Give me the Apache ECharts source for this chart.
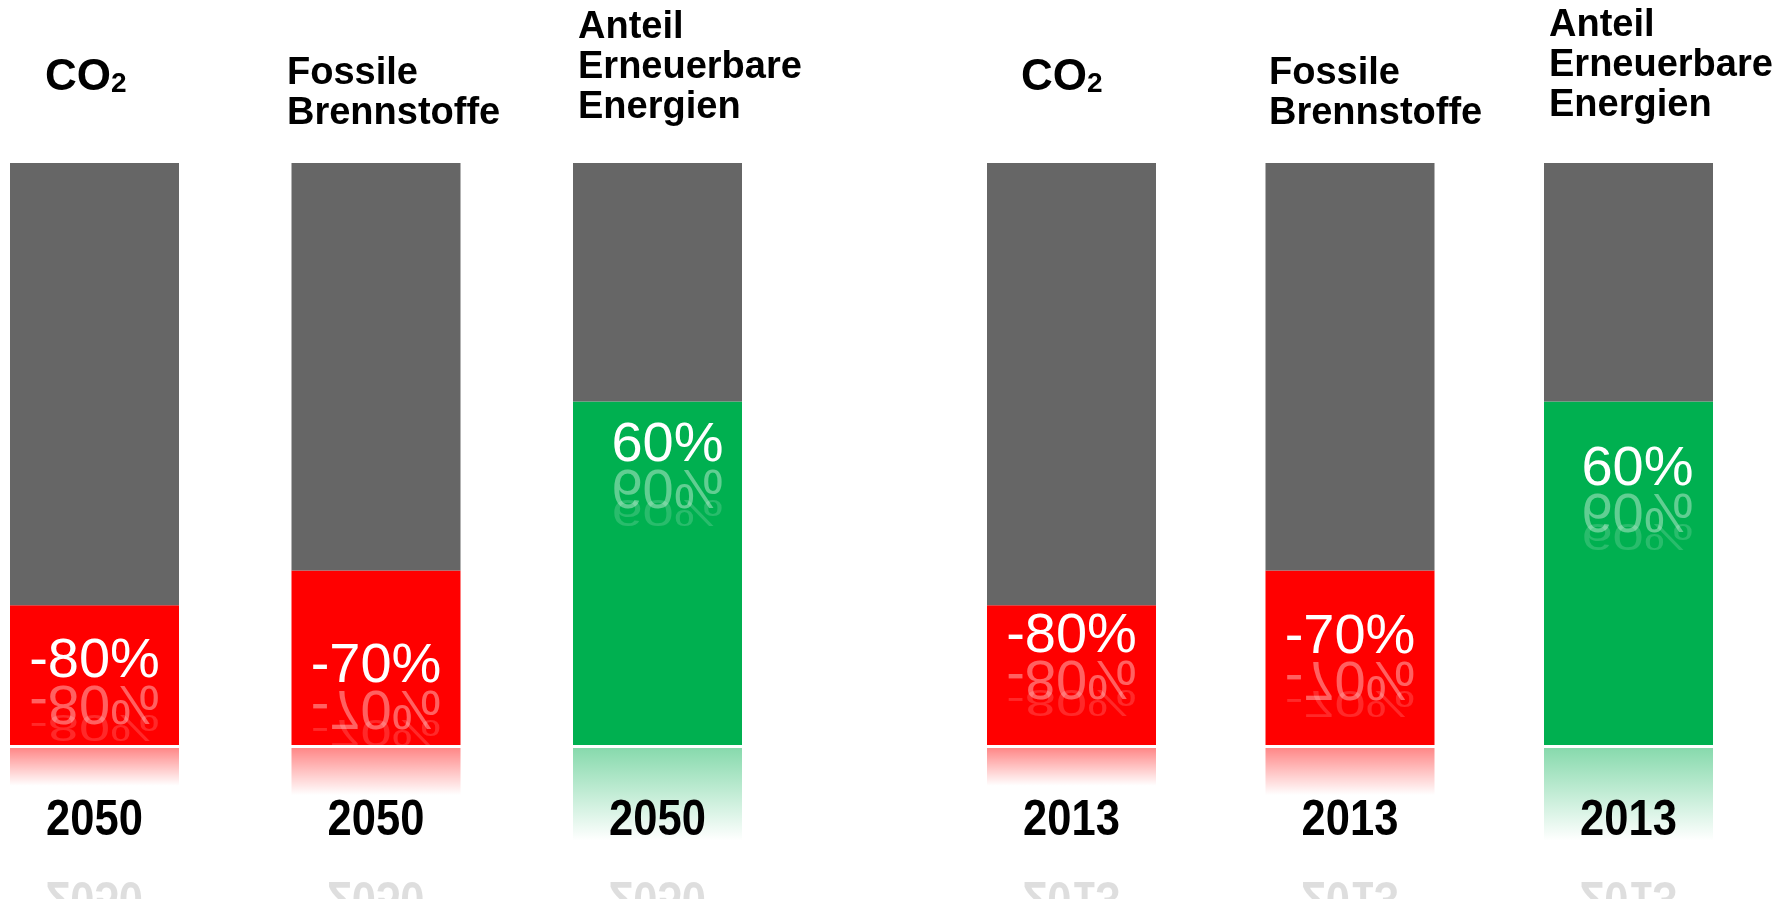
<!DOCTYPE html>
<html><head><meta charset="utf-8">
<script src="https://cdn.jsdelivr.net/npm/echarts@6/dist/echarts.min.js"></script>
<style>html,body{margin:0;padding:0;background:#fff}#c{width:1775px;height:899px}</style>
</head><body><div id="c"></div>
<script>
// ---- data ----
const titles = ['{a|CO}{b|2}', 'Fossile\nBrennstoffe', 'Anteil\nErneuerbare\nEnergien'];
const years2050 = ['2050', '2050', '2050'];
const years2013 = ['2013', '2013', '2013'];
const share2050 = [24, 30, 59];
const share2013 = [24, 30, 59];
const labels2050 = ['-80%', '-70%', '60%'];
const labels2013 = ['-80%', '-70%', '60%'];

// ---- layout / style (not data) ----
const BAR_W = 169;
const segColors = ['#FF0000', '#FF0000', '#00B050'];
const segRGB = [[255, 0, 0], [255, 0, 0], [0, 176, 80]];
const labelDy2050 = [56, 96, 44], labelDx2050 = [0, 0, 10];
const labelDy2013 = [31, 67, 68], labelDx2013 = [0, 0, 9];
const titlePos = [[45, 50], [287, 54], [578, 8], [1021, 50], [1269, 54], [1549, 6]];
const pctFont = '56px "Liberation Sans", Arial, sans-serif';
const yearFont = 'bold 50px "Liberation Sans", Arial, sans-serif';
const YEAR_SX = 0.87;

function rgba(c, a) { return 'rgba(' + c[0] + ',' + c[1] + ',' + c[2] + ',' + a + ')'; }

function overlay(labels, dys, dxs, years) {
  return function (params, api) {
    const i = api.value(0), v = api.value(1);
    const top = api.coord([i, v]);
    const base = api.coord([i, 0]);
    const cx = base[0], by = base[1], ty = top[1];
    const segH = by - ty;
    const lx = cx + dxs[i], ly = ty + dys[i];
    const c = segRGB[i];
    const txt = { text: labels[i], font: pctFont, align: 'center', verticalAlign: 'middle' };
    const ytxt = { text: years[i], font: yearFont, align: 'center', verticalAlign: 'middle' };
    return {
      type: 'group',
      children: [
        { type: 'rect', shape: { x: cx - BAR_W / 2, y: by + 3, width: BAR_W, height: segH * 0.27 },
          style: { fill: new echarts.graphic.LinearGradient(0, 0, 0, 1, [
            { offset: 0, color: rgba(c, 0.47) }, { offset: 1, color: rgba(c, 0) }]) } },
        { type: 'text', x: lx, y: ly, style: Object.assign({ fill: '#ffffff' }, txt) },
        { type: 'text', x: lx, y: ly + 40, scaleY: -1, style: Object.assign({ fill: 'rgba(255,255,255,0.38)' }, txt) },
        { type: 'text', x: lx, y: ly + 64, scaleY: -0.65, style: Object.assign({ fill: 'rgba(255,255,255,0.16)' }, txt) },
        { type: 'text', x: cx, y: by + 76, scaleX: YEAR_SX, style: Object.assign({ fill: '#000000' }, ytxt) },
        { type: 'text', x: cx, y: by + 151, scaleX: YEAR_SX, scaleY: -1,
          style: Object.assign({ fill: 'rgba(0,0,0,0.13)' }, ytxt) }
      ]
    };
  };
}

function makeGroup(gi, years, share, labels, dys, dxs) {
  return {
    xAxis: {
      type: 'category', gridIndex: gi, data: years, boundaryGap: false,
      axisLine: { show: false }, axisTick: { show: false }, splitLine: { show: false },
      axisLabel: { show: false }
    },
    yAxis: { type: 'value', gridIndex: gi, min: 0, max: 100, show: false, splitLine: { show: false } },
    series: [
      { type: 'bar', xAxisIndex: gi, yAxisIndex: gi, stack: 's' + gi, barWidth: BAR_W, clip: false,
        data: share.map((v, k) => ({ value: v, itemStyle: { color: segColors[k] } })), silent: true },
      { type: 'bar', xAxisIndex: gi, yAxisIndex: gi, stack: 's' + gi, barWidth: BAR_W, clip: false,
        data: share.map(v => 100 - v), itemStyle: { color: '#666666' }, silent: true },
      { type: 'custom', xAxisIndex: gi, yAxisIndex: gi, clip: false, silent: true, z: 5,
        data: share.map((v, k) => [k, v]), encode: { x: 0, y: 1 },
        renderItem: overlay(labels, dys, dxs, years) }
    ]
  };
}

const g1 = makeGroup(0, years2050, share2050, labels2050, labelDy2050, labelDx2050);
const g2 = makeGroup(1, years2013, share2013, labels2013, labelDy2013, labelDx2013);

const titleEls = [];
[0, 1].forEach(function (side) {
  titles.forEach(function (t, k) {
    const p = titlePos[side * 3 + k];
    titleEls.push({
      type: 'text', x: p[0], y: p[1],
      style: {
        text: t, fill: '#000', font: 'bold 38px "Liberation Sans", Arial, sans-serif',
        lineHeight: 40, verticalAlign: 'top', align: 'left',
        rich: {
          a: { font: 'bold 44px "Liberation Sans", Arial, sans-serif', lineHeight: 50, verticalAlign: 'bottom' },
          b: { font: 'bold 28px "Liberation Sans", Arial, sans-serif', lineHeight: 50, verticalAlign: 'bottom', padding: [0, 0, 2, 0] }
        }
      }
    });
  });
});

const chart = echarts.init(document.getElementById('c'), null, { renderer: 'canvas' });
chart.setOption({
  animation: false,
  backgroundColor: '#ffffff',
  grid: [
    { left: 94.5, width: 563, top: 163, bottom: 154 },
    { left: 1071.5, width: 557, top: 163, bottom: 154 }
  ],
  xAxis: [g1.xAxis, g2.xAxis],
  yAxis: [g1.yAxis, g2.yAxis],
  series: g1.series.concat(g2.series),
  graphic: titleEls
});
</script></body></html>
